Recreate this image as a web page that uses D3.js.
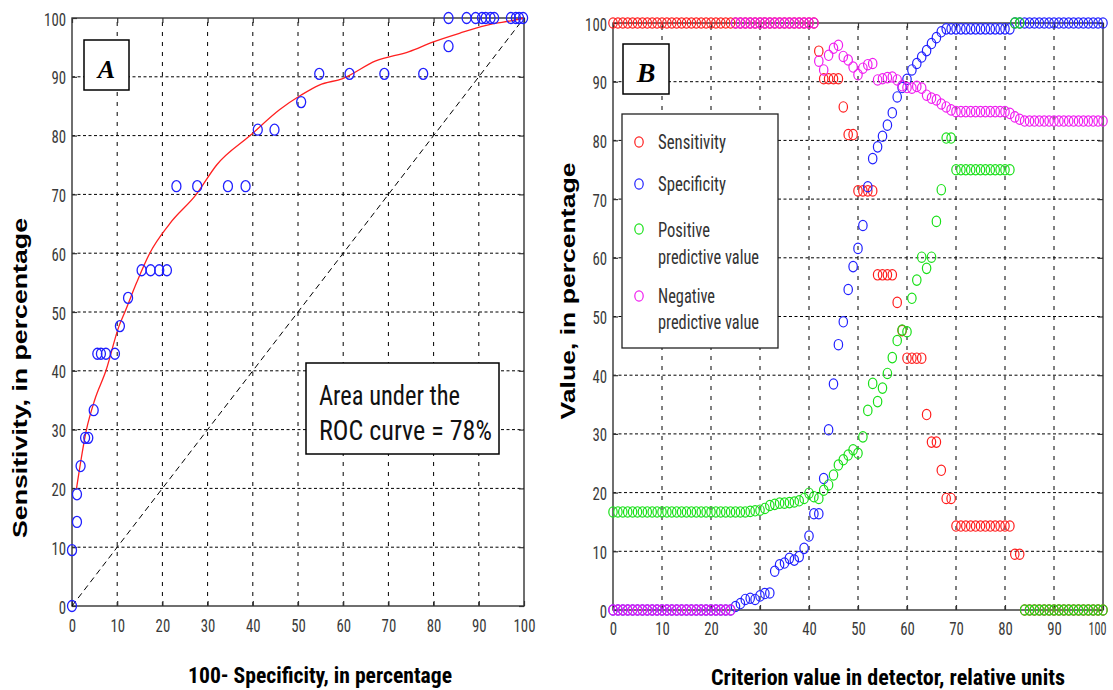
<!DOCTYPE html>
<html><head><meta charset="utf-8">
<script src="https://cdn.jsdelivr.net/npm/d3@7"></script>
<style>body{margin:0;background:#fff}</style>
</head><body>
<svg id="c" width="1113" height="690"></svg>
<script>
// ---------------- DATA ----------------
const ticks = [0,10,20,30,40,50,60,70,80,90,100];
const tickLabels = ["0","10","20","30","40","50","60","70","80","90","100"];
const gridTicks = [10,20,30,40,50,60,70,80,90];

// Panel A: ROC points (100 - specificity, sensitivity)
const rocFpr = [0,0,1.1,1.1,1.9,2.9,3.6,4.8,5.6,6.4,7.5,9.5,10.6,12.4,15.4,17.4,19.3,21.0,23.1,27.7,34.5,38.4,41.1,44.8,50.7,54.7,61.4,69.1,77.7,83.3,83.3,87.3,89.3,90.7,91.5,92.6,93.4,97.1,98.2,98.9,99.8];
const rocSens = [0,9.5,14.3,19.0,23.8,28.6,28.6,33.3,42.9,42.9,42.9,42.9,47.6,52.4,57.1,57.1,57.1,57.1,71.4,71.4,71.4,71.4,81.0,81.0,85.7,90.5,90.5,90.5,90.5,95.2,100,100,100,100,100,100,100,100,100,100,100];
// Panel A: fitted ROC curve
const fitFpr = [1,3.2,5,7.5,10.4,11.7,14.3,17.2,21.6,27.5,32,39.4,45.9,50.7,54.7,59.9,67.2,74.6,79.8,85.7,93,97,100];
const fitSens = [20,30,35,40,47.6,50,55,60,65,70,75,80,84.4,86.9,88.6,89.7,92.7,94.3,95.9,97.4,99,99.5,100];
// Panel A: chance diagonal
const diagonal = [0,100];

// Panel B: criterion values and the four series
const criterion = [0,1,2,3,4,5,6,7,8,9,10,11,12,13,14,15,16,17,18,19,20,21,22,23,24,25,26,27,28,29,30,31,32,33,34,35,36,37,38,39,40,41,42,43,44,45,46,47,48,49,50,51,52,53,54,55,56,57,58,59,60,61,62,63,64,65,66,67,68,69,70,71,72,73,74,75,76,77,78,79,80,81,82,83,84,85,86,87,88,89,90,91,92,93,94,95,96,97,98,99,100];
const sensitivity = [
100,100,100,100,100,100,100,100,100,100,
100,100,100,100,100,100,100,100,100,100,
100,100,100,100,100,100,100,100,100,100,
100,100,100,100,100,100,100,100,100,100,
100,100,95.2,90.5,90.5,90.5,90.5,85.7,81.0,81.0,
71.4,71.4,71.4,71.4,57.1,57.1,57.1,57.1,52.4,47.6,
42.9,42.9,42.9,42.9,33.3,28.6,28.6,23.8,19.0,19.0,
14.3,14.3,14.3,14.3,14.3,14.3,14.3,14.3,14.3,14.3,
14.3,14.3,9.5,9.5,0,0,0,0,0,0,
0,0,0,0,0,0,0,0,0,0,
0];
const specificity = [
0,0,0,0,0,0,0,0,0,0,
0,0,0,0,0,0,0,0,0,0,
0,0,0,0,0,0.6,1.1,1.8,2.0,1.8,
2.4,2.8,2.9,6.6,7.7,8.0,8.8,8.5,9.1,10.5,
12.6,16.4,16.4,22.4,30.7,38.5,45.2,49.1,54.6,58.5,
61.6,65.5,72.1,76.9,78.9,80.7,82.6,84.7,87.4,89.0,
90.4,92.0,93.1,94.2,95.3,96.5,97.5,98.5,99.0,99.0,
99.0,99.0,99.0,99.0,99.0,99.0,99.0,99.0,99.0,99.0,
99.0,99.0,100,100,100,100,100,100,100,100,
100,100,100,100,100,100,100,100,100,100,
100];
const ppv = [
16.7,16.7,16.7,16.7,16.7,16.7,16.7,16.7,16.7,16.7,
16.7,16.7,16.7,16.7,16.7,16.7,16.7,16.7,16.7,16.7,
16.7,16.7,16.7,16.7,16.7,16.7,16.7,16.7,16.8,16.9,
17.0,17.3,17.8,18.0,18.2,18.2,18.3,18.4,18.6,19.0,
19.9,19.3,19.0,20.4,21.3,23.0,24.7,25.6,26.4,27.3,
26.7,29.5,34.0,38.6,35.5,37.8,40.3,43.0,45.9,47.7,
47.4,53.1,56.2,60.1,58.2,60.1,66.2,71.6,80.4,80.4,
75,75,75,75,75,75,75,75,75,75,
75,75,100,100,0,0,0,0,0,0,
0,0,0,0,0,0,0,0,0,0,
0];
const npv = [
0,0,0,0,0,0,0,0,0,0,
0,0,0,0,0,0,0,0,0,0,
0,0,0,0,0,100,100,100,100,100,
100,100,100,100,100,100,100,100,100,100,
100,100,93.5,92.0,94.5,95.7,96.2,94.3,93.7,92.5,
91.2,92.3,92.9,93.1,90.3,90.5,90.7,90.8,90.3,89.3,
89.0,88.9,89.2,88.9,87.7,87.2,86.9,86.2,85.7,85.2,
84.9,84.9,84.9,84.9,84.9,84.9,84.9,84.9,84.9,84.9,
84.9,84.6,84.0,83.6,83.3,83.3,83.3,83.3,83.3,83.3,
83.3,83.3,83.3,83.3,83.3,83.3,83.3,83.3,83.3,83.3,
83.3];
const legendLabels = [["Sensitivity"],["Specificity"],["Positive","predictive value"],["Negative","predictive value"]];

// ---------------- STYLE ----------------
const NARROW = "'Liberation Sans Narrow','Arial Narrow','Roboto Condensed','DejaVu Sans Condensed','Liberation Sans',sans-serif";
const SANS = "'Liberation Sans',Arial,sans-serif";
const SERIF = "'Liberation Serif','Times New Roman',serif";
const C_RED = "#ff1c1c", C_BLUE = "#2020ff", C_GREEN = "#18e018", C_MAG = "#f01cf0";
const seriesColors = [C_RED, C_BLUE, C_GREEN, C_MAG];

const svg = d3.select("#c");
svg.append("rect").attr("width",1113).attr("height",690).attr("fill","#fff");

const xA = d3.scaleLinear().domain([0,100]).range([72,524]);
const yA = d3.scaleLinear().domain([0,100]).range([606,18]);
const xB = d3.scaleLinear().domain([0,100]).range([613,1103]);
const yB = d3.scaleLinear().domain([0,100]).range([610,23]);

function grid(g, x, y) {
  g.append("g").selectAll("line").data(gridTicks).join("line")
    .attr("x1", d => x(d)).attr("x2", d => x(d))
    .attr("y1", y(0)).attr("y2", y(100))
    .attr("stroke", "#000").attr("stroke-width", 1).attr("stroke-dasharray", "4,6");
  g.append("g").selectAll("line").data(gridTicks).join("line")
    .attr("y1", d => y(d)).attr("y2", d => y(d))
    .attr("x1", x(0)).attr("x2", x(100))
    .attr("stroke", "#000").attr("stroke-width", 1).attr("stroke-dasharray", "3,2.5");
}

function axes(g, x, y, xOff, yOffX, lastShift) {
  const fmt = (d, i) => tickLabels[i];
  const last = ticks.length - 1;
  const b = g.append("g").attr("transform", `translate(0,${y(0)})`)
    .call(d3.axisBottom(x).tickValues(ticks).tickSize(-5).tickFormat(fmt));
  const l = g.append("g").attr("transform", `translate(${x(0)},0)`)
    .call(d3.axisLeft(y).tickValues(ticks).tickSize(-5).tickFormat(fmt));
  const t = g.append("g").attr("transform", `translate(0,${y(100)})`)
    .call(d3.axisTop(x).tickValues(ticks).tickSize(-5).tickFormat(""));
  const r = g.append("g").attr("transform", `translate(${x(100)},0)`)
    .call(d3.axisRight(y).tickValues(ticks).tickSize(-5).tickFormat(""));
  [b, l, t, r].forEach(a => {
    a.select(".domain").remove();
    a.selectAll(".tick line").attr("stroke", "#333").attr("stroke-width", 1.2);
    a.attr("font-family", NARROW).attr("font-size", 16);
  });
  b.selectAll(".tick text").attr("y", null).attr("dy", null).attr("fill", "#3a3a3a")
    .attr("text-anchor", (d, i) => i === last && lastShift ? "end" : "middle")
    .attr("transform", (d, i) => `translate(${i === last && lastShift ? lastShift : 0},${xOff}) scale(1,1.2)`)
    .attr("textLength", (d, i) => i === last && lastShift ? 18 : tickLabels[i].length * 7.3)
    .attr("lengthAdjust", "spacingAndGlyphs");
  l.selectAll(".tick text").attr("x", null).attr("dy", null).attr("fill", "#3a3a3a")
    .attr("transform", `translate(${yOffX},7) scale(1,1.2)`)
    .attr("textLength", (d, i) => tickLabels[i].length * 7.3).attr("lengthAdjust", "spacingAndGlyphs");
  g.append("rect").attr("x", x(0)).attr("y", y(100))
    .attr("width", x(100) - x(0)).attr("height", y(0) - y(100))
    .attr("fill", "none").attr("stroke", "#333").attr("stroke-width", 1.4);
}

function labelBox(g, x0, y0, x1, y1, letter, size, base) {
  g.append("rect").attr("x", x0).attr("y", y0).attr("width", x1 - x0).attr("height", y1 - y0)
    .attr("fill", "#fff").attr("stroke", "#000").attr("stroke-width", 1.5);
  g.append("text").attr("x", (x0 + x1) / 2).attr("y", base).attr("text-anchor", "middle")
    .attr("font-family", SERIF).attr("font-weight", "bold").attr("font-style", "italic")
    .attr("font-size", size).attr("fill", "#000").text(letter);
}

// ---------------- PANEL A ----------------
const gA = svg.append("g");
grid(gA, xA, yA);
axes(gA, xA, yA, 26, -6, 0);

gA.append("path")
  .attr("d", d3.line().x(d => xA(d)).y(d => yA(d))(diagonal))
  .attr("fill", "none").attr("stroke", "#000").attr("stroke-width", 1).attr("stroke-dasharray", "6,4");

gA.append("path")
  .attr("d", d3.line().x((d, i) => xA(fitFpr[i])).y(d => yA(d)).curve(d3.curveMonotoneX)(fitSens))
  .attr("fill", "none").attr("stroke", "#ff2020").attr("stroke-width", 1.3);

gA.append("g").selectAll("ellipse").data(rocSens).join("ellipse")
  .attr("cx", (d, i) => xA(rocFpr[i])).attr("cy", d => yA(d))
  .attr("rx", 4.5).attr("ry", 5.5)
  .attr("fill", "none").attr("stroke", C_BLUE).attr("stroke-width", 1.3);

labelBox(gA, 84, 40, 129, 90, "A", 26, 78);

gA.append("rect").attr("x", 306).attr("y", 363).attr("width", 193).attr("height", 91)
  .attr("fill", "#fff").attr("stroke", "#000").attr("stroke-width", 1.5);
gA.append("text").attr("x", 319).attr("y", 405).attr("font-family", NARROW).attr("font-size", 28)
  .attr("fill", "#111").attr("textLength", 141).attr("lengthAdjust", "spacingAndGlyphs").text("Area under the");
gA.append("text").attr("x", 319).attr("y", 440).attr("font-family", NARROW).attr("font-size", 28)
  .attr("fill", "#111").attr("textLength", 173).attr("lengthAdjust", "spacingAndGlyphs").text("ROC curve = 78%");

gA.append("text").attr("transform", "translate(27,378) rotate(-90)").attr("text-anchor", "middle")
  .attr("font-family", SANS).attr("font-weight", "bold").attr("font-size", 20).attr("fill", "#000")
  .attr("textLength", 320).attr("lengthAdjust", "spacingAndGlyphs").text("Sensitivity, in percentage");
gA.append("text").attr("x", 320).attr("y", 683).attr("text-anchor", "middle")
  .attr("font-family", NARROW).attr("font-weight", "bold").attr("font-size", 22).attr("fill", "#000")
  .attr("textLength", 264).attr("lengthAdjust", "spacingAndGlyphs").text("100- Specificity, in percentage");

// ---------------- PANEL B ----------------
const gB = svg.append("g");
grid(gB, xB, yB);
axes(gB, xB, yB, 25, -6, 3);

[sensitivity, specificity, ppv, npv].forEach((series, k) => {
  gB.append("g").selectAll("ellipse").data(series).join("ellipse")
    .attr("cx", (d, i) => xB(criterion[i])).attr("cy", d => yB(d))
    .attr("rx", 4.2).attr("ry", 5.2)
    .attr("fill", "none").attr("stroke", seriesColors[k]).attr("stroke-width", 1.2);
});

labelBox(gB, 623, 44, 669, 94, "B", 28, 82);

// legend
gB.append("rect").attr("x", 622).attr("y", 114).attr("width", 156).attr("height", 234)
  .attr("fill", "#fff").attr("stroke", "#222").attr("stroke-width", 1.3);
const legMarkY = [142, 184, 229, 296];
const legTextY = [[149], [191], [237, 264], [303, 329]];
const legTextW = {"Sensitivity": 68, "Specificity": 68, "Positive": 52, "Negative": 57, "predictive value": 101};
legendLabels.forEach((lines, k) => {
  gB.append("ellipse").attr("cx", 639).attr("cy", legMarkY[k]).attr("rx", 4.2).attr("ry", 5.2)
    .attr("fill", "none").attr("stroke", seriesColors[k]).attr("stroke-width", 1.2);
  lines.forEach((s, j) => {
    gB.append("text").attr("x", 658).attr("y", legTextY[k][j]).attr("font-family", NARROW)
      .attr("font-size", 20).attr("fill", "#333")
      .attr("textLength", legTextW[s]).attr("lengthAdjust", "spacingAndGlyphs").text(s);
  });
});

gB.append("text").attr("transform", "translate(575,291) rotate(-90)").attr("text-anchor", "middle")
  .attr("font-family", SANS).attr("font-weight", "bold").attr("font-size", 20).attr("fill", "#000")
  .attr("textLength", 257).attr("lengthAdjust", "spacingAndGlyphs").text("Value, in percentage");
gB.append("text").attr("x", 888).attr("y", 685).attr("text-anchor", "middle")
  .attr("font-family", NARROW).attr("font-weight", "bold").attr("font-size", 22).attr("fill", "#000")
  .attr("textLength", 354).attr("lengthAdjust", "spacingAndGlyphs").text("Criterion value in detector, relative units");
</script>
</body></html>
